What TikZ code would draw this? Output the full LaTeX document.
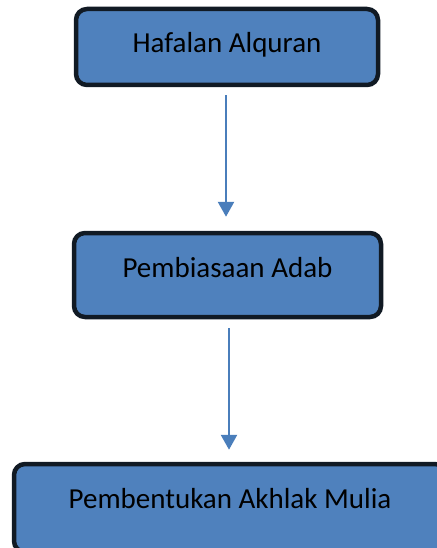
\documentclass[tikz,border=0pt]{standalone}
\usepackage{fontspec}
\setmainfont{Carlito}
\usetikzlibrary{arrows.meta}
\definecolor{boxblue}{HTML}{4F81BD}
\definecolor{boxline}{HTML}{111A24}
\definecolor{arrowblue}{HTML}{4A7EBB}
\begin{document}
\begin{tikzpicture}[x=1pt, y=-1pt,
                    stepbox/.style={draw=boxline, fill=boxblue, line width=4.5pt,
                                    rounded corners=11pt, inner sep=0pt,
                                    text height=19pt,
                                    font=\fontsize{29}{33}\selectfont},
                    flow/.style={draw=arrowblue, line width=2.6pt,
                                 -{Triangle[width=16pt,length=15pt]}}
                   ]
\useasboundingbox (0,0) rectangle (436,548);

\node [stepbox, minimum width=302pt, minimum height=76pt, text depth=7pt]
      (hafalan) at (227,47) {Hafalan Alquran};
\node [stepbox, minimum width=307pt, minimum height=84pt, text depth=15pt]
      (adab) at (227.5,275) {Pembiasaan Adab};
\node [stepbox, minimum width=432pt, minimum height=88pt, text depth=19pt]
      (akhlak) at (230,508) {Pembentukan Akhlak Mulia};

\draw [flow] ([xshift=-1pt]hafalan.south) ++(0,8) coordinate (a1)
      -- ([xshift=-1.5pt,yshift=14pt]adab.north);
\draw [flow] ([xshift=1.5pt]adab.south) ++(0,9) coordinate (a2)
      -- ([xshift=-1pt,yshift=12pt]akhlak.north);
\end{tikzpicture}
\end{document}
